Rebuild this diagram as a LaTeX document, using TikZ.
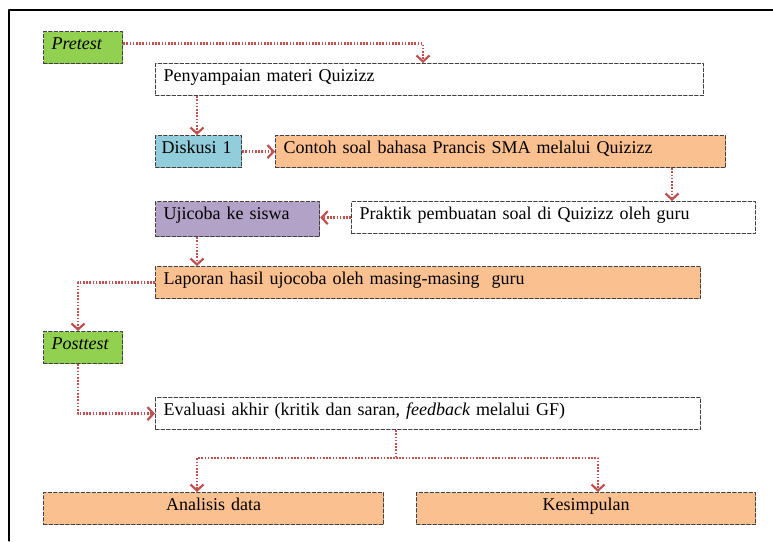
\documentclass[tikz,border=0pt]{standalone}
\usepackage{fontspec}
\setmainfont{Liberation Serif}
\usepackage{tikz}
\usetikzlibrary{arrows,arrows.meta}
\definecolor{boxgreen}{HTML}{92D050}
\definecolor{boxblue}{HTML}{92CDDC}
\definecolor{boxorange}{HTML}{FAC090}
\definecolor{boxpurple}{HTML}{B2A2C7}
\definecolor{linkred}{HTML}{C0504D}
\begin{document}
\begin{tikzpicture}[line cap=round,line join=round,>={Straight Barb[length=6pt,width=13pt,line width=2.2pt]},x=1pt,y=-1pt,
  box/.style={draw=black!75,dash pattern=on 3.5pt off 2pt,line width=1.2pt,anchor=north west,inner xsep=8pt,inner ysep=0pt,text height=18pt,text depth=14pt,align=left,font=\fontsize{18}{20}\selectfont},
  link/.style={->,draw=linkred,line width=2.6pt,line cap=butt,dash pattern=on 1.6pt off 1.6pt}]
\useasboundingbox (0,0) rectangle (773,541);
\draw[line width=1.2pt] (9,541) -- (9,10) -- (773,10);
\node[box,fill=boxgreen,text width=63pt] (pre) at (43,31) {\textit{Pretest}};
\node[box,text width=532pt] (pen) at (155,63) {Penyampaian materi Quizizz};
\node[box,fill=boxblue,inner xsep=6pt,text width=74pt] (dis) at (155,135) {Diskusi 1};
\node[box,fill=boxorange,text width=434pt] (con) at (275,135) {Contoh soal bahasa Prancis SMA melalui Quizizz};
\node[box,text width=388pt] (pra) at (351,201) {Praktik pembuatan soal di Quizizz oleh guru};
\node[box,fill=boxpurple,text width=148pt,text depth=17pt] (uji) at (155,201) {Ujicoba ke siswa};
\node[box,fill=boxorange,text width=529pt] (lap) at (155,266) {Laporan hasil ujocoba oleh masing-masing\ \ guru};
\node[box,fill=boxgreen,text width=63pt] (post) at (43,331) {\textit{Posttest}};
\node[box,text width=529pt] (eva) at (155,397) {Evaluasi akhir (kritik dan saran, \textit{feedback} melalui GF)};
\node[box,fill=boxorange,text width=324pt,align=center] (ana) at (43,492) {Analisis data};
\node[box,fill=boxorange,text width=323pt,align=center] (kes) at (416,492) {Kesimpulan};
\coordinate (k0) at (197,0);
\coordinate (k1) at (672,0);
\coordinate (k2) at (423,0);
\coordinate (k4) at (598,0);
\coordinate (k5) at (78,0);
\coordinate (split) at (396,458);
\draw[link] ([yshift=4pt]pre.east) -| (pen.north -| k2);
\draw[link] (pen.south -| k0) -- (dis.north -| k0);
\draw[link] (dis.east) -- (con.west);
\draw[link] (con.south -| k1) -- (pra.north -| k1);
\draw[link] (pra.west) -- (pra.west -| uji.east);
\draw[link] (uji.south -| k0) -- (lap.north -| k0);
\draw[link] (lap.west) -| (post.north -| k5);
\draw[link] (post.south -| k5) |- (eva.west);
\draw[link] (eva.south -| split) -- (split) -| (ana.north -| k0);
\draw[link] (split) -| (kes.north -| k4);
\end{tikzpicture}
\end{document}
